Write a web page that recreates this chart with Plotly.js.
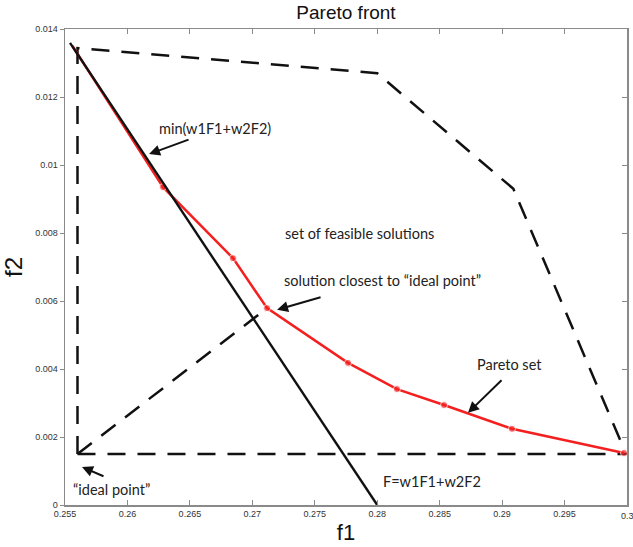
<!DOCTYPE html>
<html>
<head>
<meta charset="utf-8">
<script src="https://cdn.plot.ly/plotly-3.0.1.min.js"></script>
<style>html,body{margin:0;padding:0;background:#fff;}#chart{width:633px;height:547px;}</style>
</head>
<body>
<div id="chart"></div>
<script>
// Pareto set (red)
var paretoF1 = [0.2556, 0.26285, 0.26845, 0.27118, 0.27766, 0.28158, 0.28535, 0.29079, 0.29976];
var paretoF2 = [0.01350, 0.00935, 0.00726, 0.00579, 0.00418, 0.00341, 0.00294, 0.00224, 0.00153];
// Weighted-sum line F = w1F1 + w2F2
var lineF1 = [0.2554, 0.28];
var lineF2 = [0.01359, 0.0];
// Feasible set boundary (dashed)
var boundF1 = [0.256, 0.256, 0.28, 0.2909, 0.2997];
var boundF2 = [0.0015, 0.01344, 0.0127, 0.0093, 0.0017];
var bottomF1 = [0.256, 0.3];
var bottomF2 = [0.0015, 0.0015];
// Ideal point to closest solution
var diagF1 = [0.256, 0.27118];
var diagF2 = [0.0015, 0.00579];
// Ticks
var xTickVals = [0.255, 0.26, 0.265, 0.27, 0.275, 0.28, 0.285, 0.29, 0.295, 0.3];
var xTickText = ["0.255", "0.26", "0.265", "0.27", "0.275", "0.28", "0.285", "0.29", "0.295", "0.3"];
var yTickVals = [0, 0.002, 0.004, 0.006, 0.008, 0.01, 0.012, 0.014];
var yTickText = ["0", "0.002", "0.004", "0.006", "0.008", "0.01", "0.012", "0.014"];

var tickFont = {family: 'Liberation Sans, Arial, sans-serif', size: 9, color: '#333'};
var dashStyle = {color: '#111', width: 2.5, dash: '18px,12px'};
var traces = [
  {x: boundF1, y: boundF2, mode: 'lines', line: dashStyle, hoverinfo: 'skip'},
  {x: bottomF1, y: bottomF2, mode: 'lines', line: dashStyle, hoverinfo: 'skip'},
  {x: diagF1, y: diagF2, mode: 'lines', line: dashStyle, hoverinfo: 'skip'},
  {x: paretoF1, y: paretoF2, mode: 'lines+markers', line: {color: '#f42020', width: 2.5},
   marker: {color: '#f42020', size: [0, 7, 7, 7, 7, 7, 7, 7, 7]}},
  {x: lineF1, y: lineF2, mode: 'lines', line: {color: '#111', width: 2.4}},
  {x: bottomF1, y: bottomF2, yaxis: 'y2', mode: 'lines', line: {width: 0}, opacity: 0, hoverinfo: 'skip'}
];

var txtFont = {family: 'Lato, "Open Sans", sans-serif', size: 14.5, color: '#222'};
function arrow(x, y, ax, ay) {
  return {x: x, y: y, ax: ax, ay: ay, xref: 'x', yref: 'y', text: '', showarrow: true,
          arrowhead: 2, arrowsize: 1.1, arrowwidth: 2, arrowcolor: '#111'};
}
function label(x, y, t, anchor) {
  return {x: x, y: y, xref: 'x', yref: 'y', text: t, showarrow: false, font: txtFont,
          xanchor: anchor || 'center', yanchor: 'middle'};
}

var annots = [
  arrow(0.26173, 0.01032, 41, -15),
  arrow(0.27198, 0.00574, 45, -13),
  arrow(0.28727, 0.00271, 35, -34),
  arrow(0.25636, 0.00112, 23, 10),
  label(0.26701, 0.01106, 'min(w1F1+w2F2)'),
  label(0.27862, 0.0080, 'set of feasible solutions'),
  label(0.27238, 0.00659, 'solution closest to \u201cideal point\u201d', 'left'),
  label(0.29063, 0.00412, 'Pareto set'),
  label(0.25548, 0.00047, '\u201cideal point\u201d', 'left'),
  label(0.28439, 0.00068, 'F=w1F1+w2F2'),
  // last x tick label, drawn at the plot edge like the reference
  {x: xTickVals[xTickVals.length - 1], y: 0, xref: 'x', yref: 'paper', yshift: -4, text: xTickText[xTickText.length - 1],
   showarrow: false, font: tickFont, xanchor: 'center', yanchor: 'top'}
];

var layout = {
  width: 633, height: 547,
  margin: {l: 65, r: 6, t: 29, b: 42},
  paper_bgcolor: '#fff', plot_bgcolor: '#fff',
  showlegend: false,
  title: {text: 'Pareto front', x: 0.5, xref: 'paper', y: 0.978, yref: 'container', yanchor: 'middle',
          font: {family: 'Liberation Sans, Arial, sans-serif', size: 19, color: '#111'}},
  xaxis: {range: [0.255, 0.3], tickvals: xTickVals.slice(0, -1), ticktext: xTickText.slice(0, -1), showgrid: false, zeroline: false,
          showline: true, linecolor: '#8a8a8a', linewidth: 1.5, mirror: 'ticks', ticks: 'inside', ticklen: 5,
          tickcolor: '#8a8a8a', tickfont: tickFont,
          title: {text: 'f1', standoff: 6, font: {family: 'Liberation Sans, Arial, sans-serif', size: 22, color: '#111'}}},
  yaxis: {range: [0, 0.014], tickvals: yTickVals, ticktext: yTickText, showgrid: false, zeroline: false,
          showline: true, linecolor: '#8a8a8a', linewidth: 1.5, mirror: true, ticks: 'outside', ticklen: 4,
          tickcolor: '#8a8a8a', tickfont: tickFont,
          title: {text: 'f2', standoff: 8, font: {family: 'Liberation Sans, Arial, sans-serif', size: 24, color: '#111'}}},
  yaxis2: {overlaying: 'y', side: 'right', range: [0, 0.014], tickvals: yTickVals, showticklabels: false,
           showgrid: false, zeroline: false, showline: false, ticks: 'inside', ticklen: 5, tickcolor: '#8a8a8a'},
  annotations: annots
};

Plotly.newPlot('chart', traces, layout, {displayModeBar: false, staticPlot: true});
</script>
</body>
</html>
